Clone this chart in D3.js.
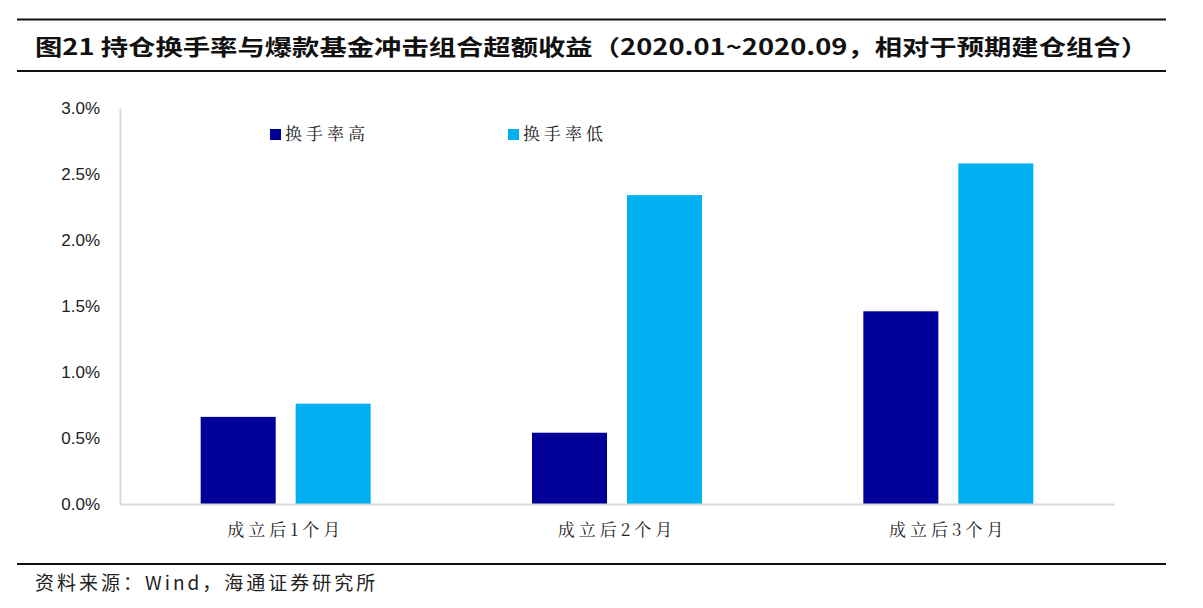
<!DOCTYPE html>
<html><head><meta charset="utf-8">
<script src="https://cdn.jsdelivr.net/npm/d3@7"></script>
<style>body{margin:0;background:#fff}svg{display:block}</style>
</head><body>
<svg id="c" width="1203" height="608"></svg>
<script>
const categories = ["成立后1个月", "成立后2个月", "成立后3个月"];
const seriesNames = ["换手率高", "换手率低"];
const highTurnover = [0.66, 0.54, 1.46];
const lowTurnover = [0.76, 2.34, 2.58];
const yTicks = [0, 0.5, 1.0, 1.5, 2.0, 2.5, 3.0];
const colors = ["#000099", "#00B0F0"];
const titleText = "图21 持仓换手率与爆款基金冲击组合超额收益（2020.01~2020.09，相对于预期建仓组合）";
const sourceText = "资料来源：Wind，海通证券研究所";

const svg = d3.select("#c");
const cjk = "'Noto Sans CJK SC', 'Noto Sans', sans-serif";
const serifCjk = "'Noto Serif CJK SC', 'Noto Sans CJK SC', serif";

// frame lines
[[19.5, 2], [71, 2], [564, 2]].forEach(([yy, w]) => {
  svg.append("line").attr("x1", 17).attr("x2", 1166).attr("y1", yy).attr("y2", yy)
    .attr("stroke", "#111").attr("stroke-width", w);
});

svg.append("text").attr("x", 35).attr("y", 55)
  .attr("font-family", cjk).attr("font-weight", "bold").attr("font-size", 22)
  .attr("fill", "#111").attr("textLength", 1113).attr("lengthAdjust", "spacingAndGlyphs")
  .text(titleText);

svg.append("text").attr("x", 35).attr("y", 590)
  .attr("font-family", cjk).attr("font-size", 19).attr("fill", "#222")
  .attr("letter-spacing", 3)
  .text(sourceText);

const x0 = d3.scaleBand().domain(categories).range([120, 1114]);
const x1 = d3.scaleBand().domain(seriesNames).range([0, 170]).paddingInner(0.21);
const y = d3.scaleLinear().domain([0, 3]).range([504, 108]);

const data = categories.map((c, i) => ({c, vals: [highTurnover[i], lowTurnover[i]]}));

const g = svg.append("g");
data.forEach(d => {
  const start = x0(d.c) + (x0.bandwidth() - 170) / 2;
  d.vals.forEach((v, j) => {
    g.append("rect")
      .attr("x", start + x1(seriesNames[j]))
      .attr("y", y(v))
      .attr("width", x1.bandwidth())
      .attr("height", y(0) - y(v))
      .attr("fill", colors[j]);
  });
});

// y axis
const yAxis = d3.axisLeft(y).tickValues(yTicks).tickSize(0).tickPadding(20)
  .tickFormat(d => d.toFixed(1) + "%");
const ya = svg.append("g").attr("transform", "translate(120,0)").call(yAxis);
ya.select(".domain").attr("stroke", "#d9d9d9").attr("stroke-width", 2);
ya.selectAll("text").attr("font-family", "Arial, 'Liberation Sans', sans-serif")
  .attr("font-size", 17).attr("fill", "#222");

// x axis
const xAxis = d3.axisBottom(x0).tickSize(0).tickPadding(20);
const xa = svg.append("g").attr("transform", "translate(0,504)").call(xAxis);
xa.select(".domain").attr("stroke", "#d9d9d9").attr("stroke-width", 2);
xa.selectAll("text").attr("font-family", serifCjk).attr("font-size", 17)
  .attr("fill", "#222").attr("letter-spacing", 4);

// legend
const legendX = [270, 508];
seriesNames.forEach((n, i) => {
  svg.append("rect").attr("x", legendX[i]).attr("y", 129).attr("width", 11).attr("height", 11)
    .attr("fill", colors[i]);
  svg.append("text").attr("x", legendX[i] + 15).attr("y", 140)
    .attr("font-family", serifCjk).attr("font-size", 17).attr("fill", "#222")
    .attr("letter-spacing", 4).text(n);
});
</script>
</body></html>
